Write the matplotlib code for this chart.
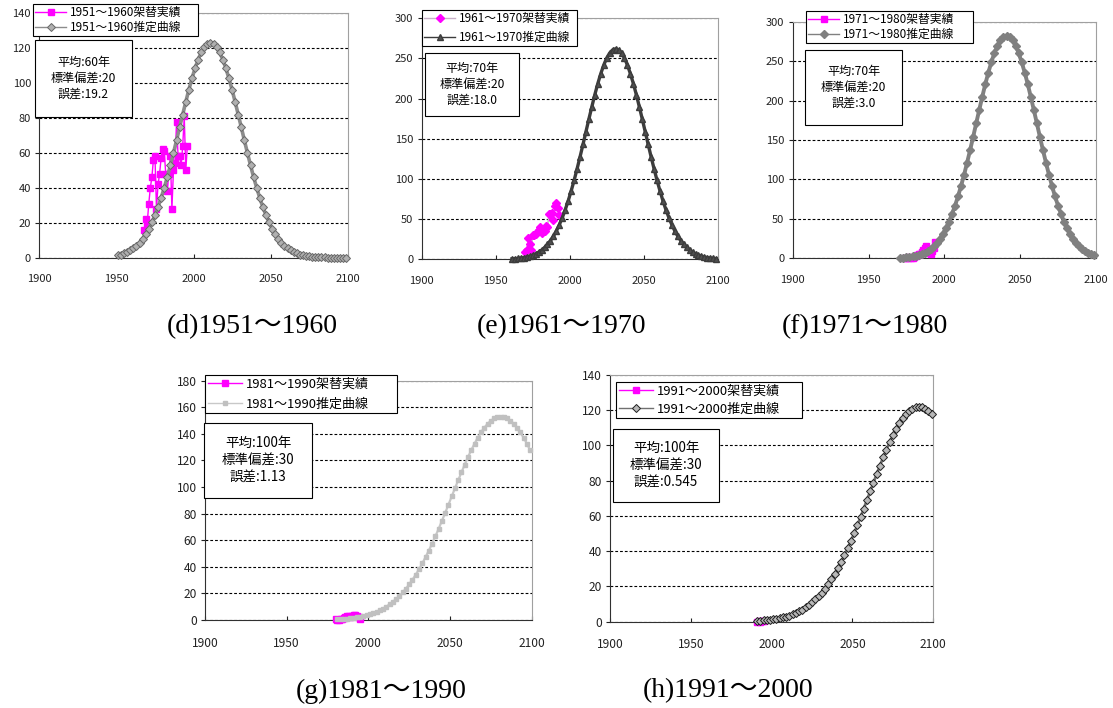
import numpy as np
import matplotlib
matplotlib.use('Agg')
import matplotlib.pyplot as plt
from matplotlib.patches import Rectangle

plt.rcParams['font.family'] = ['Noto Sans CJK JP', 'DejaVu Sans']

W, H = 1113, 708

# ---- data ----
# actual replacement counts (pink)
act_d_years = list(range(1968, 1997))
act_d = [16, 22, 20, 31, 40, 46, 56, 58, 28, 42, 48, 57, 62, 61, 48, 38, 48, 58, 28, 50,
         54, 78, 58, 58, 53, 64, 81, 50, 64]
act_e_years = list(range(1970, 1994))
act_e = [9, 11, 27, 19, 12, 30, 30, 32, 34, 37, 40, 33, 38, 35, 42, 40, 57, 56, 58, 49,
         66, 70, 64, 55]
act_f_years = list(range(1974, 1995))
act_f = [0, 0, 1, 2, 1, 0, 2, 3, 4, 5, 6, 8, 11, 13, 15, 12, 7, 6, 9, 13, 21]
act_g_years = list(range(1980, 1996))
act_g = [0.5, 0.3, 0, 0.5, 1, 1.5, 2, 3, 3, 2.5, 3, 3.5, 4, 3, 2, 1]
act_h_years = list(range(1991, 1996))
act_h = [0, 0.3, 0, 0.5, 0.2]

# estimated curves, read every 2 years from the first year
est_d_start = 1951
est_d = [1.4, 1.8, 2.5, 3.2, 4.2, 5.4, 6.9, 8.7, 10.9, 13.5, 16.6, 20.2, 24.4, 29.0, 34.2,
         40.0, 46.1, 52.9, 59.9, 67.2, 74.7, 82.0, 89.3, 96.3, 102.7, 108.5, 113.5, 117.6,
         120.5, 122.4, 123.0, 122.4, 120.5, 117.6, 113.5, 108.5, 102.7, 96.3, 89.3, 82.0,
         74.7, 67.2, 59.9, 52.9, 46.1, 40.0, 34.2, 29.0, 24.4, 20.2, 16.6, 13.5, 10.9, 8.7,
         6.9, 5.4, 4.2, 3.2, 2.5, 1.8, 1.4, 1.0, 0.7, 0.5, 0.4, 0.3, 0.2, 0.2, 0.1, 0.1,
         0.1, 0.1, 0.0, 0.0, 0.0]
est_e_start = 1961
est_e = [0.6, 0.8, 1.1, 1.6, 2.1, 2.9, 3.9, 5.2, 6.8, 8.9, 11.5, 14.7, 18.6, 23.3, 28.8,
         35.4, 43.0, 51.9, 61.8, 72.8, 85.2, 98.3, 112.7, 127.6, 143.1, 159.0, 174.8, 190.2,
         205.1, 218.8, 231.1, 241.8, 250.5, 256.8, 260.7, 262.0, 260.7, 256.8, 250.5, 241.8,
         231.1, 218.8, 205.1, 190.2, 174.8, 159.0, 143.1, 127.6, 112.7, 98.3, 85.2, 72.8,
         61.8, 51.9, 43.0, 35.4, 28.8, 23.3, 18.6, 14.7, 11.5, 8.9, 6.8, 5.2, 3.9, 2.9, 2.1,
         1.6, 1.1, 0.8]
est_f_start = 1971
est_f = [0.6, 0.9, 1.2, 1.7, 2.3, 3.1, 4.2, 5.6, 7.3, 9.6, 12.4, 15.8, 20.0, 25.1, 31.0,
         38.1, 46.2, 55.8, 66.6, 78.4, 91.7, 105.8, 121.3, 137.3, 154.0, 171.2, 188.1, 204.7,
         220.8, 235.5, 248.7, 260.3, 269.6, 276.4, 280.6, 282.0, 280.6, 276.4, 269.6, 260.3,
         248.7, 235.5, 220.8, 204.7, 188.1, 171.2, 154.0, 137.3, 121.3, 105.8, 91.7, 78.4,
         66.6, 55.8, 46.2, 38.1, 31.0, 25.1, 20.0, 15.8, 12.4, 9.6, 7.3, 5.6, 4.2]
est_g_start = 1981
est_g = [0.6, 0.7, 0.9, 1.1, 1.4, 1.7, 2.1, 2.4, 3.1, 3.7, 4.4, 5.2, 6.1, 7.3, 8.6, 10.1,
         11.8, 13.6, 15.8, 18.1, 20.7, 23.6, 26.8, 30.3, 34.1, 38.1, 42.5, 47.3, 52.2, 57.4,
         62.9, 68.5, 74.5, 80.5, 86.6, 92.9, 99.0, 105.1, 111.1, 116.9, 122.6, 127.8, 132.7,
         137.2, 141.2, 144.7, 147.6, 149.9, 151.6, 152.7, 153.0, 152.7, 151.6, 149.9, 147.6,
         144.7, 141.2, 137.2, 132.7, 127.8]
est_h_start = 1991
est_h = [0.5, 0.6, 0.7, 0.9, 1.1, 1.3, 1.6, 2.0, 2.4, 2.9, 3.5, 4.1, 4.9, 5.9, 6.8, 8.1,
         9.4, 10.9, 12.6, 14.4, 16.5, 18.8, 21.4, 24.2, 27.2, 30.4, 33.9, 37.7, 41.6, 45.8,
         50.1, 54.7, 59.4, 64.2, 69.1, 74.1, 78.9, 83.8, 88.6, 93.2, 97.7, 101.9, 105.8,
         109.4, 112.6, 115.4, 117.7, 119.6, 120.9, 121.8, 122.0, 121.8, 120.9, 119.6, 117.7]

periods = ['1951～1960', '1961～1970', '1971～1980', '1981～1990', '1991～2000']
letters = ['d', 'e', 'f', 'g', 'h']
stats = ['平均:60年\n標準偏差:20\n誤差:19.2',
         '平均:70年\n標準偏差:20\n誤差:18.0',
         '平均:70年\n標準偏差:20\n誤差:3.0',
         '平均:100年\n標準偏差:30\n誤差:1.13',
         '平均:100年\n標準偏差:30\n誤差:0.545']
ymaxes = [140, 300, 300, 180, 140]
ysteps = [20, 50, 50, 20, 20]

acts = [(act_d_years, act_d), (act_e_years, act_e), (act_f_years, act_f),
        (act_g_years, act_g), (act_h_years, act_h)]
ests = [(est_d_start, est_d), (est_e_start, est_e), (est_f_start, est_f),
        (est_g_start, est_g), (est_h_start, est_h)]

# ---- layout in pixels (left, top, right, bottom) ----
ax_px = [(39.3, 13.3, 347.7, 257.7), (421.7, 18.3, 717.7, 259.3), (792.7, 21.7, 1096, 258.3),
         (205, 380.7, 531.7, 620), (610, 375, 933.3, 621.7)]
leg_px = [(33, 3, 198, 37), (422, 8, 577, 48), (806, 10, 973, 44),
          (205, 371, 397, 417), (616, 379, 802, 421)]
box_px = [(35, 40, 132, 117), (425, 53, 519, 116), (805, 50, 902, 125),
          (204, 423, 312, 498), (613, 429, 719, 502)]
cap_px = [(252, 327), (562, 327), (865, 327), (381, 691), (728, 691)]
# top row is drawn a little smaller than the bottom row
tick_fs = [8, 8, 8, 8.6, 8.6]
leg_fs = [8.5, 8.5, 8.5, 9.4, 9.4]
leg_sp = [0.15, 0.5, 0.15, 0.5, 0.35]
box_fs = [8.7, 8.7, 8.7, 9.7, 9.7]

PINK = '#ff00ff'
act_style = [dict(marker='s', ms=4.5, color=PINK, mec=PINK, lw=1.0),
             dict(marker='D', ms=4, color='#c8b0c8', mfc=PINK, mec=PINK, lw=1.0),
             dict(marker='s', ms=4.5, color=PINK, mec=PINK, lw=1.0),
             dict(marker='s', ms=4.5, color=PINK, mec=PINK, lw=1.0),
             dict(marker='s', ms=4.5, color=PINK, mec=PINK, lw=1.0)]
est_style = [dict(marker='D', ms=4.5, color='#8c8c8c', mfc='#b0b0b0', mec='#686868', mew=0.7, lw=2.6),
             dict(marker='^', ms=4.8, color='#3c3c3c', mfc='#505050', mec='#3c3c3c', lw=2.4),
             dict(marker='D', ms=3.8, color='#808080', mfc='#808080', mec='#808080', lw=2.8),
             dict(marker='s', ms=2.2, color='#c8c8c8', mfc='#c0c0c0', mec='#c0c0c0', lw=1.6),
             dict(marker='D', ms=4.2, color='#707070', mfc='#b8b8b8', mec='#202020', mew=0.7, lw=2.0)]

fig = plt.figure(figsize=(W / 100, H / 100), dpi=100)


def fx(x):
    return x / W


def fy(y):
    return 1 - y / H


for i in range(5):
    l, t, r, b = ax_px[i]
    ax = fig.add_axes([fx(l), fy(b), fx(r) - fx(l), fy(t) - fy(b)])
    ay, av = acts[i]
    ax.plot(ay, av, label=periods[i] + '架替実績', clip_on=False, zorder=3, **act_style[i])
    start, ev = ests[i]
    ey = np.arange(start, start + 2 * len(ev), 2)
    ax.plot(ey, ev, label=periods[i] + '推定曲線', clip_on=False, zorder=4, **est_style[i])

    ax.set_xlim(1900, 2100)
    ax.set_ylim(0, ymaxes[i])
    ax.set_xticks(range(1900, 2101, 50))
    ax.set_yticks(range(0, ymaxes[i] + 1, ysteps[i]))
    ax.yaxis.grid(True, color='black', linestyle=(0, (2.5, 1.8)), lw=0.8)
    ax.set_axisbelow(True)
    ax.tick_params(axis='x', direction='in', length=3, pad=12, labelsize=tick_fs[i], colors='#222222')
    ax.tick_params(axis='y', direction='out', length=3, pad=3, labelsize=tick_fs[i], colors='#222222')
    for s in ['left', 'bottom']:
        ax.spines[s].set_color('#303030')
    for s in ['top', 'right']:
        ax.spines[s].set_color('#a0a0a0')

    x0, y0, x1, y1 = leg_px[i]
    leg = ax.legend(loc='center', bbox_to_anchor=(fx(x0), fy(y1), fx(x1) - fx(x0), fy(y0) - fy(y1)),
                    bbox_transform=fig.transFigure, mode='expand', fontsize=leg_fs[i],
                    borderpad=0.2, labelspacing=leg_sp[i], handlelength=2.6, handletextpad=0.3,
                    borderaxespad=0, fancybox=False, framealpha=1)
    leg.get_frame().set_edgecolor('black')
    leg.get_frame().set_linewidth(0.8)
    for ln in leg.get_lines():
        ln.set_linewidth(1.0)

    x0, y0, x1, y1 = box_px[i]
    fig.add_artist(Rectangle((fx(x0), fy(y1)), fx(x1) - fx(x0), fy(y0) - fy(y1),
                             transform=fig.transFigure, fc='white', ec='black', lw=0.8))
    fig.text(fx((x0 + x1) / 2), fy((y0 + y1) / 2), stats[i], ha='center', va='center',
             fontsize=box_fs[i], linespacing=1.3)

    cx, cy = cap_px[i]
    fig.text(fx(cx), fy(cy), '(' + letters[i] + ')' + periods[i], ha='center', va='center',
             fontsize=20, family=['Liberation Serif', 'Noto Sans CJK JP'])

plt.savefig('out.png', dpi=100)
